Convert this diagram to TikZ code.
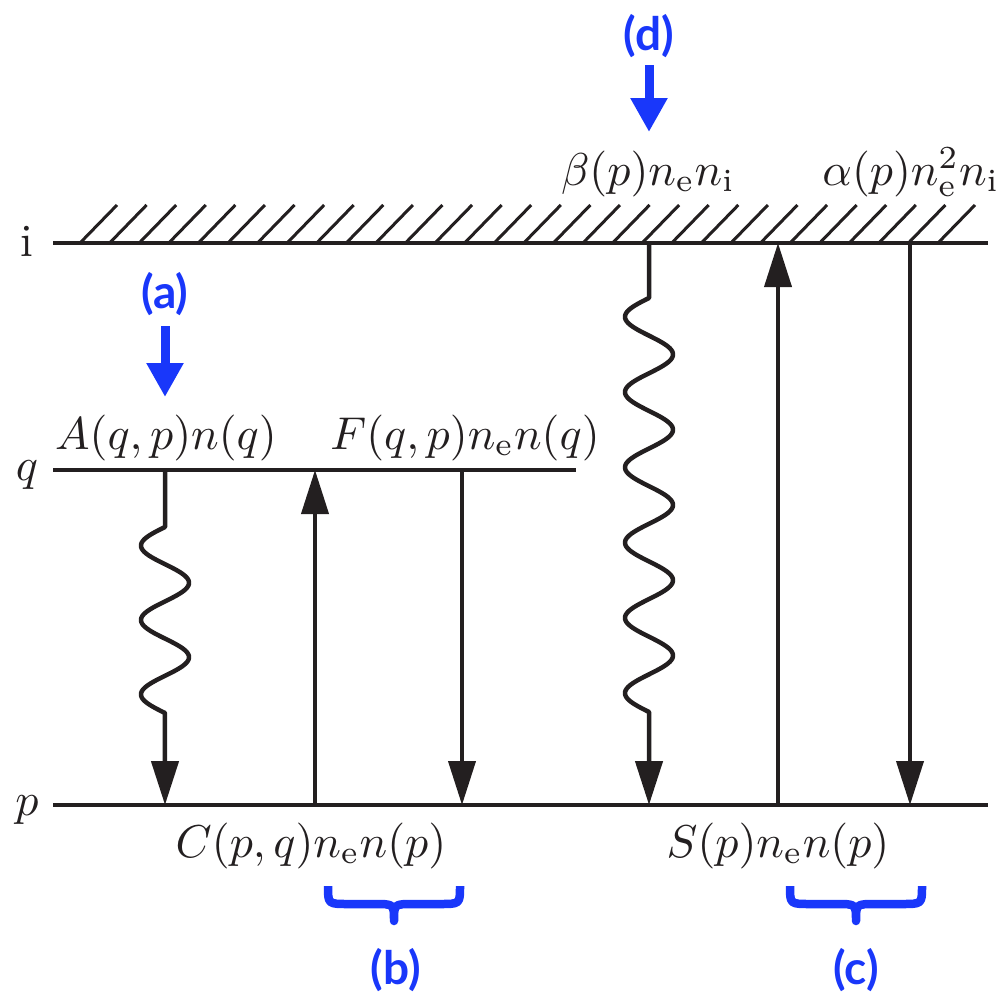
\documentclass[tikz,border=0pt]{standalone}
\usepackage{fontspec}
\newfontfamily\lblfont{Lato}
\usetikzlibrary{arrows.meta}
\definecolor{ink}{RGB}{35,31,32}
\definecolor{lblue}{RGB}{25,55,250}
\begin{document}
\begin{tikzpicture}[x=1pt,y=-1pt,
  level/.style={line width=4.5pt, draw=ink},
  hatch/.style={line width=3pt, draw=ink},
  trans/.style={line width=4pt, draw=ink, -{Triangle[length=44pt,width=27pt,fill=ink]}},
  wave/.style={line width=4.5pt, draw=ink, line join=round, -{Triangle[length=44pt,width=27pt,fill=ink]}},
  mathlbl/.style={inner sep=0pt, text=ink, scale=4.6, transform shape},
  bluelbl/.style={inner sep=0pt, font=\lblfont\bfseries\fontsize{46}{55}\selectfont, text=lblue},
  barrow/.style={line width=9pt, draw=lblue, -{Triangle[length=34pt,width=35pt,fill=lblue]}},
  bracepath/.style={line width=8.5pt, draw=lblue, line join=round}
]
\useasboundingbox (0,0) rectangle (999,996);

% level lines
\coordinate (iL) at (53,243);  \coordinate (iR) at (988,243);
\coordinate (qL) at (53,470);  \coordinate (qR) at (576,470);
\coordinate (pL) at (53,805);  \coordinate (pR) at (988,805);
\draw[level] (iL) -- (iR);
\draw[level] (qL) -- (qR);
\draw[level] (pL) -- (pR);

% hatching above the ionisation limit
\foreach \k in {0,...,29}
  \draw[hatch] ({80+\k*29.586},243) -- ++(37,-38);

% level names
\node[mathlbl, anchor=base] (li) at (27,256) {$\mathrm{i}$};
\node[mathlbl, anchor=base] (lq) at (27,480) {$q$};
\node[mathlbl, anchor=base] (lp) at (27,815) {$p$};

% end points of the transitions
\coordinate (aTop) at (165,470); \coordinate (aBot) at (165,805);
\coordinate (cTop) at (315,470); \coordinate (cBot) at (315,805);
\coordinate (fTop) at (462,470); \coordinate (fBot) at (462,805);
\coordinate (bTop) at (649,243); \coordinate (bBot) at (649,805);
\coordinate (sTop) at (778,243); \coordinate (sBot) at (778,805);
\coordinate (rTop) at (910,243); \coordinate (rBot) at (910,805);

% spontaneous emission q -> p
\draw[wave] (aTop) -- (165,527)
  -- plot[domain=0:186, samples=160] ({165-24*sin(4.8387*\x)}, {527+\x})
  -- (aBot);

% collisional excitation and de-excitation
\draw[trans] (cBot) -- (cTop);
\draw[trans] (fTop) -- (fBot);

% radiative recombination
\draw[wave] (bTop) -- (649,298)
  -- plot[domain=0:414, samples=330] ({649-24*sin(4.7828*\x)}, {298+\x})
  -- (bBot);

% ionisation and three-body recombination
\draw[trans] (sBot) -- (sTop);
\draw[trans] (rTop) -- (rBot);

% rate labels
\node[mathlbl, anchor=base] (tA) at (166,449) {$A(q,p)n(q)$};
\node[mathlbl, anchor=base] (tF) at (465,449) {$F(q,p)n_{\mathrm{e}}n(q)$};
\node[mathlbl, anchor=base] (tC) at (311,857) {$C(p,q)n_{\mathrm{e}}n(p)$};
\node[mathlbl, anchor=base] (tS) at (778,857) {$S(p)n_{\mathrm{e}}n(p)$};
\node[mathlbl, anchor=base] (tB) at (648,185) {$\beta(p)n_{\mathrm{e}}n_{\mathrm{i}}$};
\node[mathlbl, anchor=base] (tR) at (911,185) {$\alpha(p)n_{\mathrm{e}}^2n_{\mathrm{i}}$};

% blue markers
\node[bluelbl] (ma) at (165,294) {(a)};
\node[bluelbl] (md) at (649,36) {(d)};
\node[bluelbl] (mb) at (396,970) {(b)};
\node[bluelbl] (mc) at (856,970) {(c)};

\coordinate (maS) at (165,326); \coordinate (maE) at (165,397);
\coordinate (mdS) at (649,65);  \coordinate (mdE) at (649,132);
\draw[barrow] (maS) -- (maE);
\draw[barrow] (mdS) -- (mdE);

% braces
\draw[bracepath] (328,886) .. controls (328,904) and (328,904) .. (348,904)
  -- (374,904) .. controls (394,904) and (394,904) .. (394,921)
  .. controls (394,904) and (394,904) .. (414,904)
  -- (440,904) .. controls (460,904) and (460,904) .. (460,886);
\draw[bracepath] (790,886) .. controls (790,904) and (790,904) .. (810,904)
  -- (836,904) .. controls (856,904) and (856,904) .. (856,921)
  .. controls (856,904) and (856,904) .. (876,904)
  -- (902,904) .. controls (922,904) and (922,904) .. (922,886);
\end{tikzpicture}
\end{document}
